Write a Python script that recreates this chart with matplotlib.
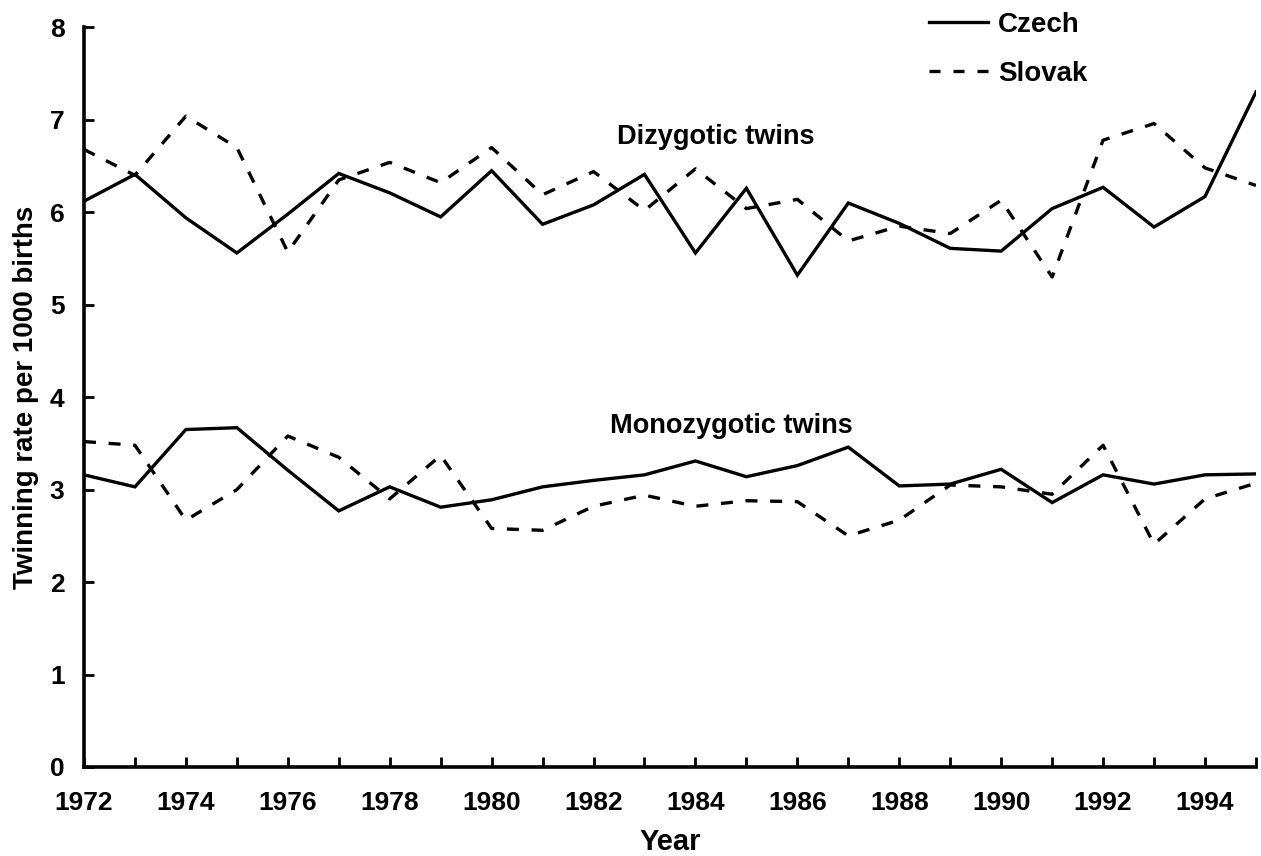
import numpy as np
import matplotlib
matplotlib.use("Agg")
import matplotlib.pyplot as plt
from matplotlib.lines import Line2D

years = np.arange(1972, 1996)

# dizygotic twinning rate per 1000 births
dz_czech = [6.12, 6.41, 5.94, 5.56, 5.98, 6.42, 6.21, 5.95, 6.45, 5.87, 6.08, 6.41,
            5.56, 6.26, 5.32, 6.10, 5.88, 5.61, 5.58, 6.04, 6.27, 5.84, 6.17, 7.30]
dz_slovak = [6.68, 6.40, 7.04, 6.70, 5.57, 6.35, 6.54, 6.32, 6.70, 6.19, 6.44, 6.02,
             6.47, 6.04, 6.14, 5.69, 5.85, 5.77, 6.13, 5.30, 6.78, 6.96, 6.48, 6.29]

# monozygotic twinning rate per 1000 births
mz_czech = [3.16, 3.03, 3.65, 3.67, 3.21, 2.77, 3.03, 2.81, 2.89, 3.03, 3.10, 3.16,
            3.31, 3.14, 3.26, 3.46, 3.04, 3.06, 3.22, 2.86, 3.16, 3.06, 3.16, 3.17]
mz_slovak = [3.52, 3.48, 2.67, 3.00, 3.58, 3.35, 2.90, 3.37, 2.58, 2.56, 2.82, 2.94,
             2.82, 2.88, 2.87, 2.50, 2.67, 3.05, 3.03, 2.95, 3.48, 2.41, 2.90, 3.07]

xtick_years = np.arange(1972, 1995, 2)
yticks = np.arange(0, 9)

FONT = ["Liberation Sans", "DejaVu Sans"]
lw = 2.4
dash = (0, (3.6, 3.8))

fig = plt.figure(figsize=(12.61, 8.56), dpi=100)
ax = fig.add_axes([0.0666, 0.104, 0.9294, 0.864])

ax.plot(years, dz_czech, color="black", lw=lw, solid_joinstyle="miter")
ax.plot(years, dz_slovak, color="black", lw=lw, linestyle=dash)
ax.plot(years, mz_czech, color="black", lw=lw, solid_joinstyle="miter")
ax.plot(years, mz_slovak, color="black", lw=lw, linestyle=dash)

ax.set_xlim(1972, 1995)
ax.set_ylim(0, 8)

ax.spines["top"].set_visible(False)
ax.spines["right"].set_visible(False)
for side in ["left", "bottom"]:
    ax.spines[side].set_linewidth(2.6)
    ax.spines[side].set_zorder(5)

ax.set_xticks(years, minor=True)
ax.set_xticks(xtick_years)
ax.set_xticklabels([str(y) for y in xtick_years], fontfamily=FONT,
                   fontsize=19, fontweight="bold")
ax.set_yticks(yticks)
ax.set_yticklabels([str(v) for v in yticks], fontfamily=FONT,
                   fontsize=19, fontweight="bold")
ax.tick_params(axis="both", which="both", direction="in", length=7, width=2)
ax.tick_params(axis="x", which="major", pad=17)
ax.tick_params(axis="y", pad=14)

ax.set_xlabel("Year", fontfamily=FONT, fontsize=21, fontweight="bold", labelpad=10)
ax.set_ylabel("Twinning rate per 1000 births", fontfamily=FONT, fontsize=20,
              fontweight="bold", labelpad=8)

ax.text(1984.4, 6.81, "Dizygotic twins", ha="center", va="center",
        fontfamily=FONT, fontsize=19.5, fontweight="bold")
ax.text(1984.7, 3.69, "Monozygotic twins", ha="center", va="center",
        fontfamily=FONT, fontsize=19.5, fontweight="bold")

handles = [Line2D([], [], color="black", lw=lw),
           Line2D([], [], color="black", lw=lw, linestyle=(0, (3.3, 3.9)))]
fig.legend(handles, ["Czech", "Slovak"], loc="upper left",
           bbox_to_anchor=(0.726, 1.002), frameon=False, borderpad=0,
           handlelength=2.1, handletextpad=0.38, labelspacing=0.82,
           prop={"family": FONT, "size": 20, "weight": "bold"})

fig.savefig("out.png", dpi=100)
